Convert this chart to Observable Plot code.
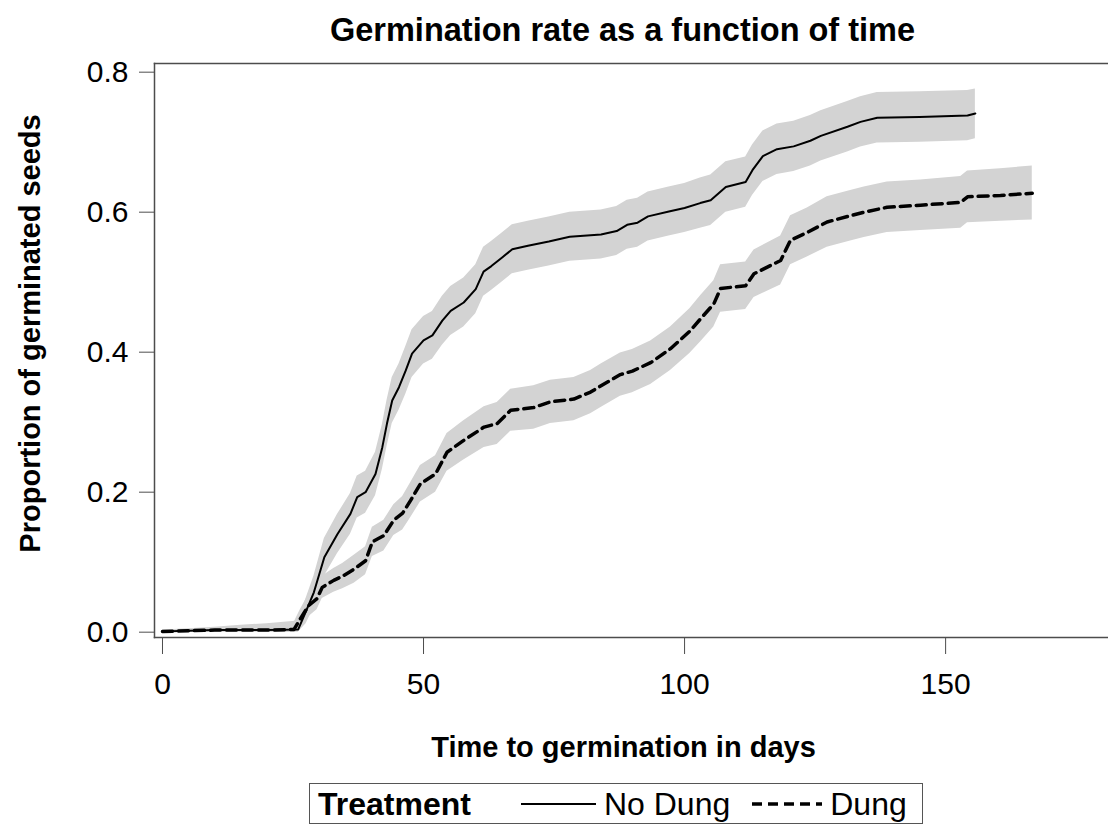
<!DOCTYPE html>
<html>
<head>
<meta charset="utf-8">
<script src="https://cdn.jsdelivr.net/npm/d3@7"></script>
<script src="https://cdn.jsdelivr.net/npm/@observablehq/plot@0.6"></script>
<style>
  html, body { margin: 0; padding: 0; background: #fff; overflow: hidden; }
  body { font-family: "Liberation Sans", Arial, sans-serif; }
  #chart svg { display: block; }
  #legend {
    position: absolute; left: 309px; top: 783px; width: 614px; height: 41px;
    box-sizing: border-box; border: 1.5px solid #555; display: flex; align-items: center;
    font-size: 32px; line-height: 1; color: #000; white-space: nowrap;
  }
  #legend .ttl { font-weight: bold; margin-left: 8px; margin-right: 50px; }
  #legend svg { display: block; }
  #legend .item { display: flex; align-items: center; }
</style>
</head>
<body>
<div id="chart"></div>
<div id="legend"></div>
<script>
const titleText = "Germination rate as a function of time";
const xLabel = "Time to germination in days";
const yLabel = "Proportion of germinated seeds";
const xTicks = [0, 50, 100, 150];
const yTicks = [0, 0.2, 0.4, 0.6, 0.8];
const treatments = ["No Dung", "Dung"];

const noDungX = [0, 5, 10, 15, 20, 26, 27.5, 29, 31, 33.5, 36, 37.3, 38.9, 40.8, 42.1, 43, 44, 45.3, 46.6, 47.8, 50, 51.7, 53.6, 55.2, 57.7, 60, 61.5, 63, 65, 67, 70, 74, 78, 84, 87, 89, 91, 93, 97, 100, 103, 105, 107.9, 111.7, 113, 115, 117.7, 120.9, 124.1, 126.1, 131.2, 133.7, 136.9, 145, 154.2, 155.7];
const noDungY = [0.001, 0.002, 0.003, 0.003, 0.003, 0.004, 0.03, 0.057, 0.107, 0.14, 0.169, 0.193, 0.2, 0.226, 0.264, 0.298, 0.331, 0.35, 0.374, 0.398, 0.417, 0.424, 0.445, 0.459, 0.471, 0.49, 0.515, 0.523, 0.535, 0.547, 0.552, 0.558, 0.565, 0.568, 0.573, 0.582, 0.585, 0.594, 0.601, 0.606, 0.613, 0.617, 0.636, 0.643, 0.66, 0.68, 0.69, 0.694, 0.702, 0.709, 0.722, 0.729, 0.735, 0.736, 0.738, 0.741];
const noDungLo = [0, 0, 0, 0, 0, 0, 0.012, 0.035, 0.08, 0.112, 0.14, 0.163, 0.17, 0.195, 0.232, 0.265, 0.298, 0.317, 0.34, 0.364, 0.383, 0.39, 0.41, 0.424, 0.436, 0.455, 0.48, 0.488, 0.5, 0.512, 0.517, 0.523, 0.53, 0.533, 0.538, 0.547, 0.55, 0.559, 0.566, 0.571, 0.577, 0.581, 0.6, 0.607, 0.624, 0.644, 0.654, 0.658, 0.666, 0.673, 0.686, 0.693, 0.699, 0.7, 0.702, 0.705];
const noDungHi = [0.003, 0.005, 0.007, 0.01, 0.012, 0.016, 0.048, 0.08, 0.134, 0.168, 0.198, 0.223, 0.23, 0.257, 0.296, 0.331, 0.364, 0.383, 0.408, 0.432, 0.451, 0.458, 0.48, 0.494, 0.506, 0.525, 0.55, 0.558, 0.57, 0.582, 0.587, 0.593, 0.6, 0.603, 0.608, 0.617, 0.62, 0.629, 0.636, 0.641, 0.649, 0.653, 0.672, 0.679, 0.696, 0.716, 0.726, 0.73, 0.738, 0.745, 0.758, 0.765, 0.771, 0.772, 0.774, 0.776];

const dungX = [0, 5, 10, 15, 20, 25.2, 26.4, 28, 29.6, 30.6, 32.8, 34.5, 36.7, 38.9, 40.2, 42.4, 44.3, 46, 47.5, 49.4, 52.3, 54.5, 57.7, 61.6, 64.1, 66.7, 71.1, 74.3, 78.8, 82, 84, 87.7, 90, 93.5, 97.3, 101, 103.1, 105.6, 106.9, 111.7, 113.3, 118.4, 120.3, 123.5, 127.3, 131.8, 134.4, 138.8, 145.2, 152.9, 154.2, 160.5, 166.6];
const dungY = [0.001, 0.002, 0.003, 0.003, 0.003, 0.004, 0.019, 0.038, 0.048, 0.064, 0.074, 0.08, 0.09, 0.102, 0.129, 0.138, 0.16, 0.17, 0.188, 0.212, 0.226, 0.257, 0.274, 0.293, 0.298, 0.317, 0.321, 0.329, 0.333, 0.343, 0.352, 0.368, 0.373, 0.385, 0.405, 0.43, 0.448, 0.469, 0.491, 0.495, 0.512, 0.531, 0.56, 0.571, 0.586, 0.595, 0.6, 0.607, 0.61, 0.614, 0.622, 0.624, 0.627];
const dungLo = [0, 0, 0, 0, 0, 0, 0.006, 0.022, 0.032, 0.048, 0.057, 0.062, 0.07, 0.082, 0.108, 0.116, 0.138, 0.146, 0.163, 0.186, 0.2, 0.23, 0.246, 0.264, 0.268, 0.287, 0.29, 0.298, 0.302, 0.312, 0.321, 0.337, 0.342, 0.354, 0.374, 0.398, 0.415, 0.436, 0.457, 0.461, 0.478, 0.496, 0.525, 0.536, 0.55, 0.559, 0.564, 0.571, 0.574, 0.577, 0.585, 0.587, 0.589];
const dungHi = [0.002, 0.004, 0.006, 0.009, 0.011, 0.014, 0.032, 0.054, 0.064, 0.08, 0.091, 0.098, 0.11, 0.122, 0.15, 0.16, 0.182, 0.194, 0.213, 0.238, 0.252, 0.284, 0.302, 0.322, 0.328, 0.347, 0.352, 0.36, 0.364, 0.374, 0.383, 0.399, 0.404, 0.416, 0.436, 0.462, 0.481, 0.502, 0.525, 0.529, 0.546, 0.566, 0.595, 0.606, 0.622, 0.631, 0.636, 0.643, 0.646, 0.651, 0.659, 0.662, 0.666];

const mk = (name, xs, ys, lo, hi) => xs.map((x, i) => ({treatment: name, x, y: ys[i], lo: lo[i], hi: hi[i]}));
const noDung = mk(treatments[0], noDungX, noDungY, noDungLo, noDungHi);
const dung = mk(treatments[1], dungX, dungY, dungLo, dungHi);

const FONT = '"Liberation Sans", Arial, Helvetica, sans-serif';
const BAND = "#d3d3d3";
const AXIS = "#4d4d4d";

const chart = Plot.plot({
  width: 1108,
  height: 775,
  marginTop: 63,
  marginLeft: 154,
  marginRight: 0,
  marginBottom: 138,
  style: {fontFamily: FONT, fontSize: "30px", color: "#000", background: "#fff"},
  x: {domain: [-1.53, 181.2]},
  y: {domain: [-0.0076, 0.8124]},
  marks: [
    Plot.areaY(noDung, {x: "x", y1: "lo", y2: "hi", fill: BAND}),
    Plot.areaY(dung, {x: "x", y1: "lo", y2: "hi", fill: BAND}),
    Plot.line(noDung, {x: "x", y: "y", stroke: "#000", strokeWidth: 2}),
    Plot.line(dung, {x: "x", y: "y", stroke: "#000", strokeWidth: 3.5, strokeDasharray: "10,6"}),
    Plot.frame({anchor: "left", stroke: AXIS, strokeWidth: 1.5}),
    Plot.frame({anchor: "top", stroke: AXIS, strokeWidth: 1.5}),
    Plot.frame({anchor: "bottom", stroke: AXIS, strokeWidth: 1.5}),
    Plot.axisY({ticks: yTicks, tickFormat: d => d.toFixed(1), tickSize: 15, tickPadding: 11, fontSize: 30, label: null, stroke: AXIS}),
    Plot.axisX({ticks: xTicks, tickFormat: d => String(d), tickSize: 17, tickPadding: 18, fontSize: 30, label: null, stroke: AXIS}),
    Plot.text([titleText], {frameAnchor: "top", lineAnchor: "middle", textAnchor: "middle", dx: -9, dy: -33, fontWeight: "bold", fontSize: 32.5, fill: "#000"}),
    Plot.text([xLabel], {frameAnchor: "bottom", lineAnchor: "middle", textAnchor: "middle", dx: -8, dy: 110, fontWeight: "bold", fontSize: 29, fill: "#000"}),
    Plot.text([yLabel], {frameAnchor: "left", lineAnchor: "middle", textAnchor: "middle", rotate: -90, dx: -124, dy: -17, fontWeight: "bold", fontSize: 29, fill: "#000"})
  ]
});
document.getElementById("chart").appendChild(chart);

// Legend
const legend = document.getElementById("legend");
const ttl = document.createElement("span");
ttl.className = "ttl";
ttl.textContent = "Treatment";
legend.appendChild(ttl);
const swatchStyles = [
  {w: 2, dash: null, len: 75, gapAfter: 22},
  {w: 3.5, dash: "10,6", len: 70, gapAfter: 0}
];
treatments.forEach((t, i) => {
  const s = swatchStyles[i];
  const item = document.createElement("span");
  item.className = "item";
  const sw = d3.create("svg").attr("width", s.len).attr("height", 20);
  sw.append("line").attr("x1", 0).attr("x2", s.len).attr("y1", 10).attr("y2", 10)
    .attr("stroke", "#000").attr("stroke-width", s.w)
    .attr("stroke-dasharray", s.dash);
  item.appendChild(sw.node());
  const lab = document.createElement("span");
  lab.textContent = t;
  lab.style.marginLeft = "8px";
  lab.style.marginRight = s.gapAfter + "px";
  item.appendChild(lab);
  legend.appendChild(item);
});
</script>
</body>
</html>
